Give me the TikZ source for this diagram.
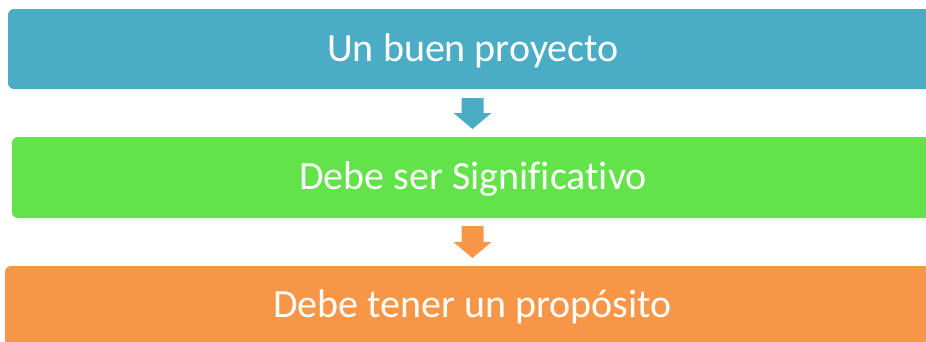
\documentclass[tikz,border=0pt]{standalone}
\usepackage{fontspec}
\setmainfont{Carlito}[Ligatures=NoCommon]
\definecolor{cblue}{HTML}{4BACC6}
\definecolor{cgreen}{HTML}{62E34A}
\definecolor{corange}{HTML}{F79646}
\tikzset{
  box/.style={draw=none, rounded corners=6pt, inner sep=0pt},
  lbl/.style={anchor=base, inner sep=0pt, text=white, font=\fontsize{40}{48}\selectfont},
  blockarrow/.style={draw=none}
}
\newcommand{\downblock}[3]{% coordinate name, colour, total length
  \fill[blockarrow, #2] ([xshift=-11pt]#1) -- ([xshift=11pt]#1)
    -- ([xshift=11pt, yshift=-#3+16pt]#1) -- ([xshift=19pt, yshift=-#3+16pt]#1)
    -- ([yshift=-#3]#1) -- ([xshift=-19pt, yshift=-#3+16pt]#1)
    -- ([xshift=-11pt, yshift=-#3+16pt]#1) -- cycle;}
\begin{document}
\begin{tikzpicture}[x=1pt,y=-1pt]
\useasboundingbox (0,0) rectangle (926,341);
\begin{scope}
\clip (0,0) rectangle (926,341);
\node[box, fill=cblue, minimum width=932pt, minimum height=80pt] (b1) at (474,49) {};
\node[box, fill=cgreen, minimum width=922pt, minimum height=81pt] (b2) at (473,177.5) {};
\node[box, fill=corange, minimum width=936pt, minimum height=100pt] (b3) at (473,316) {};
\end{scope}
\node[lbl] (t1) at (473,61.7) {Un buen proyecto};
\node[lbl] (t2) at (473,189) {Debe ser Significativo};
\node[lbl] (t3) at (472.5,317) {Debe tener un propósito};
\coordinate (a1) at (472.5,98);
\coordinate (a2) at (472.5,226);
\downblock{a1}{cblue}{31pt}
\downblock{a2}{corange}{32pt}
\end{tikzpicture}
\end{document}
